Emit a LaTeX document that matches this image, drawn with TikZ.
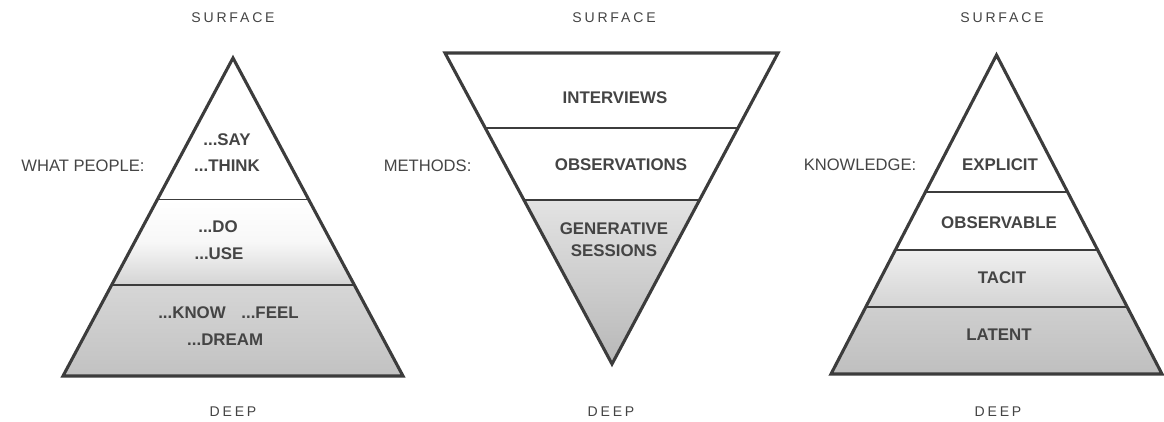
\documentclass[tikz,border=0pt]{standalone}
\usepackage{fontspec}
\setmainfont{Liberation Sans}
\newfontfamily\spacedfont[LetterSpace=20]{Liberation Sans}
\definecolor{EdgeGray}{HTML}{3C3C3C}
\definecolor{TextGray}{HTML}{444444}
\colorlet{BandLight}{black!16}
\colorlet{BandDark}{black!24}
\usetikzlibrary{calc}
\tikzset{
    outline/.style={draw=EdgeGray, line width=2.2pt, line join=miter},
    divider/.style={draw=EdgeGray, line width=1.3pt},
    layer label/.style={font=\fontsize{12}{15.6}\selectfont\bfseries,
        text=TextGray, align=center},
    side label/.style={font=\fontsize{11.8}{14}\selectfont, text=TextGray},
    depth label/.style={font=\spacedfont\fontsize{10}{12}\selectfont, text=TextGray}
}

\begin{document}
\begin{tikzpicture}
\useasboundingbox (0,0) rectangle (29.1,10.525);

% Pirámide de la izquierda
\coordinate (A) at (5.825, 9.075);
\coordinate (B) at (1.575, 1.125);
\coordinate (C) at (10.075, 1.125);

\coordinate (B1) at ($(A)!0.445!(B)$);
\coordinate (C1) at ($(A)!0.445!(C)$);
\coordinate (B2) at ($(A)!0.714!(B)$);
\coordinate (C2) at ($(A)!0.714!(C)$);

% Colorear las capas
\shade[top color=white, bottom color=black!17, middle color=black!3]
(B1) -- (C1) -- (C2) -- (B2) -- cycle;
\shade[top color=BandLight, bottom color=BandDark] (B2) -- (C2) -- (C) -- (B) -- cycle;

% Dibujamos los bordes despues de colorear
\draw[divider] (B1) -- (C1);
\draw[divider] (B2) -- (C2);
\draw[outline] (A) -- (B) -- (C) -- cycle;

\node[depth label] (surfaceA) at (5.825, 10.075) {SURFACE};
\node[depth label] (deepA) at (5.825, 0.225) {DEEP};
\node[side label] (people) at (2.075, 6.375) {WHAT PEOPLE:};
\node[layer label] (say) at (5.675, 7.025) {...SAY};
\node[layer label] (think) at (5.675, 6.375) {...THINK};
\node[layer label] (do) at (5.45, 4.85) {...DO};
\node[layer label] (use) at (5.475, 4.175) {...USE};
\node[layer label] (know) at (4.8, 2.7) {...KNOW};
\node[layer label] (feel) at (6.75, 2.7) {...FEEL};
\node[layer label] (dream) at (5.63, 2.025) {...DREAM};

% Pirámide invertida del centro
\coordinate (D) at (11.125, 9.2);
\coordinate (E) at (19.45, 9.2);
\coordinate (F) at (15.3, 1.425);

\coordinate (D1) at ($(D)!0.242!(F)$);
\coordinate (E1) at ($(E)!0.242!(F)$);
\coordinate (D2) at ($(D)!0.473!(F)$);
\coordinate (E2) at ($(E)!0.473!(F)$);

\shade[top color=black!11, bottom color=black!28] (D2) -- (E2) -- (F) -- cycle;

\draw[divider] (D1) -- (E1);
\draw[divider] (D2) -- (E2);
\draw[outline] (D) -- (E) -- (F) -- cycle;

\node[depth label] (surfaceB) at (15.35, 10.075) {SURFACE};
\node[depth label] (deepB) at (15.275, 0.225) {DEEP};
\node[side label] (methods) at (10.69, 6.375) {METHODS:};
\node[layer label] (interviews) at (15.375, 8.075) {INTERVIEWS};
\node[layer label] (observations) at (15.525, 6.4) {OBSERVATIONS};
\node[layer label] (generative) at (15.35, 4.525) {GENERATIVE\\SESSIONS};

% Pirámide de la derecha
\coordinate (G) at (24.9125, 9.15);
\coordinate (H) at (20.775, 1.175);
\coordinate (K) at (29.05, 1.175);

\coordinate (H1) at ($(G)!0.429!(H)$);
\coordinate (K1) at ($(G)!0.429!(K)$);
\coordinate (H2) at ($(G)!0.611!(H)$);
\coordinate (K2) at ($(G)!0.611!(K)$);
\coordinate (H3) at ($(G)!0.79!(H)$);
\coordinate (K3) at ($(G)!0.79!(K)$);

\shade[top color=black!6, bottom color=black!17] (H2) -- (K2) -- (K3) -- (H3) -- cycle;
\shade[top color=black!19, bottom color=black!25] (H3) -- (K3) -- (K) -- (H) -- cycle;

\draw[divider] (H1) -- (K1);
\draw[divider] (H2) -- (K2);
\draw[divider] (H3) -- (K3);
\draw[outline] (G) -- (H) -- (K) -- cycle;

\node[depth label] (surfaceC) at (25.05, 10.075) {SURFACE};
\node[depth label] (deepC) at (24.95, 0.225) {DEEP};
\node[side label] (knowledge) at (21.5, 6.4) {KNOWLEDGE:};
\node[layer label] (explicit) at (25, 6.4) {EXPLICIT};
\node[layer label] (observable) at (24.975, 4.95) {OBSERVABLE};
\node[layer label] (tacit) at (25.05, 3.575) {TACIT};
\node[layer label] (latent) at (24.975, 2.15) {LATENT};

\end{tikzpicture}
\end{document}
